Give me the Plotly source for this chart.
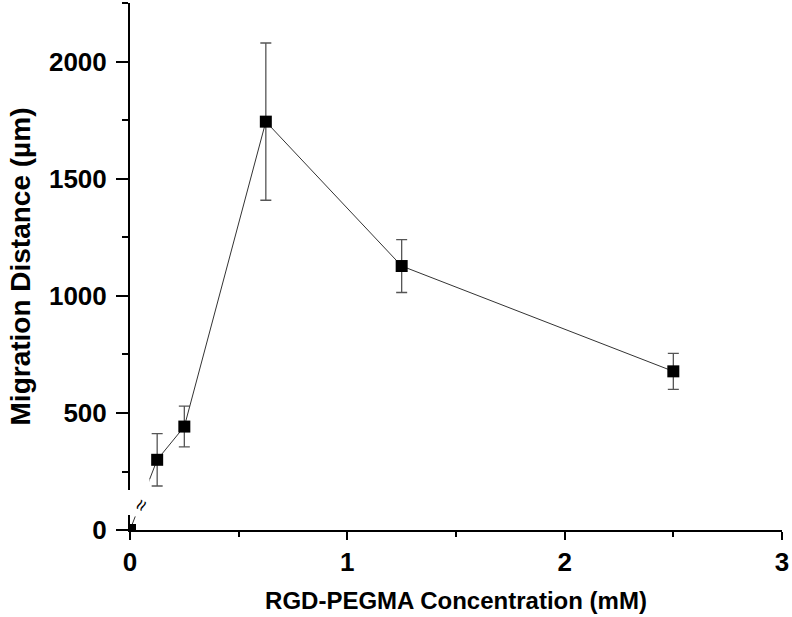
import plotly.graph_objects as go

# Data
conc_mM = [0, 0.125, 0.25, 0.625, 1.25, 2.5]
distance_um = [0, 300, 442, 1745, 1128, 678]
distance_err = [0, 112, 87, 336, 113, 77]

x_ticks = [0, 1, 2, 3]
y_ticks = [0, 500, 1000, 1500, 2000]

X_RANGE = [0, 3]
Y_RANGE = [0, 2252]
AXIS_BREAK = [64, 171]      # y-axis gap (data units)
LINE_BREAK_Y = [58, 218]    # line gap near origin
LINE_BREAK_X = [0.012, 0.09]

FONT = "Liberation Sans, Arial, sans-serif"

fig = go.Figure()
fig.add_trace(go.Scatter(
    x=conc_mM, y=distance_um,
    mode="lines+markers",
    line=dict(color="#333333", width=1),
    marker=dict(symbol="square", size=12, color="black", line=dict(width=0)),
    error_y=dict(type="data", array=distance_err, visible=True,
                 color="#555555", thickness=1.3, width=5.5),
    cliponaxis=True,
    showlegend=False,
))

# Break in the line near the origin
fig.add_shape(type="rect", xref="x", yref="y",
              x0=LINE_BREAK_X[0], x1=LINE_BREAK_X[1],
              y0=LINE_BREAK_Y[0], y1=LINE_BREAK_Y[1],
              fillcolor="white", line=dict(width=0), layer="above")
# Break in the y axis line
fig.add_shape(type="rect", xref="paper", yref="paper",
              x0=-0.012, x1=0.006,
              y0=AXIS_BREAK[0] / Y_RANGE[1], y1=AXIS_BREAK[1] / Y_RANGE[1],
              fillcolor="white", line=dict(width=0), layer="above")
fig.add_annotation(x=0.05, y=108, xref="x", yref="y", text="≈",
                   showarrow=False, textangle=-62,
                   font=dict(family=FONT, size=20, color="black"))

axis_common = dict(
    showline=True, linecolor="black", linewidth=2,
    showgrid=False, zeroline=False,
    ticks="outside", tickcolor="black", tickwidth=2,
    tickfont=dict(family=FONT, size=26, color="black", weight="bold"),
)

fig.update_xaxes(
    range=X_RANGE, tickvals=x_ticks, ticktext=[str(v) for v in x_ticks],
    ticklen=8,
    minor=dict(ticks="outside", ticklen=5, tickwidth=2, tickcolor="black",
               tick0=0.5, dtick=1),
    title=dict(text="RGD-PEGMA Concentration (mM)", standoff=16,
               font=dict(family=FONT, size=24, color="black", weight="bold")),
    **axis_common,
)
fig.update_yaxes(
    range=Y_RANGE, tickvals=y_ticks, ticktext=[str(v) for v in y_ticks],
    ticklen=12, ticklabelstandoff=4,
    minor=dict(ticks="outside", ticklen=6, tickwidth=2, tickcolor="black",
               tick0=250, dtick=500),
    title=dict(text="Migration Distance (µm)", standoff=10,
               font=dict(family=FONT, size=28, color="black", weight="bold")),
    **axis_common,
)

fig.update_layout(
    width=792, height=617,
    margin=dict(l=130, r=10, t=3, b=87, autoexpand=False),
    plot_bgcolor="white", paper_bgcolor="white",
    font=dict(family=FONT, color="black"),
)

fig.write_html("out.html", config={"displayModeBar": False},
               post_script="document.body.style.margin='0px';")
